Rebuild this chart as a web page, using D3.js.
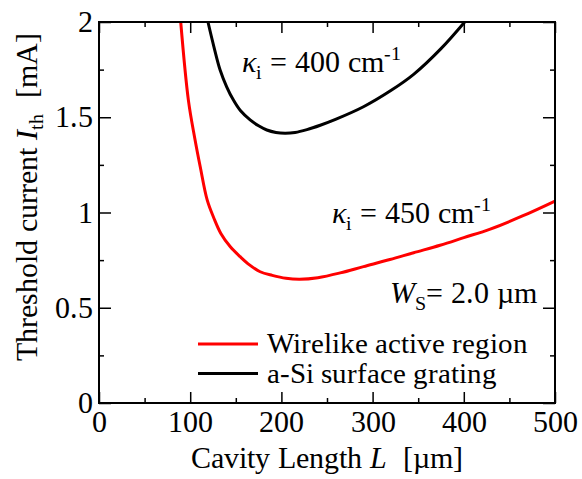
<!DOCTYPE html>
<html><head><meta charset="utf-8">
<script src="https://cdn.jsdelivr.net/npm/d3@7"></script>
<style>
@font-face { font-family: "RefSerif"; font-style: normal; src: local("Liberation Serif"), local("LiberationSerif"), local("LiberationSerif-Regular"), local("Times New Roman"); }
@font-face { font-family: "RefSerif"; font-style: italic; src: local("Liberation Serif Italic"), local("LiberationSerif-Italic"); }
body{margin:0;background:#fff}svg{display:block}
</style>
</head><body>
<script>
// Data
const redL = [89.6, 98, 105, 111, 118.6, 126, 133.6, 144, 154.8, 165, 176.7, 190, 205, 220, 240, 264.5, 290, 319, 345, 374, 400, 429, 465, 500];
const redI = [2.0, 1.59, 1.39, 1.24, 1.066, 0.97, 0.89, 0.82, 0.768, 0.725, 0.689, 0.67, 0.655, 0.65, 0.658, 0.683, 0.716, 0.753, 0.789, 0.828, 0.868, 0.913, 0.983, 1.06];
const blackL = [119.5, 126, 132.8, 140, 147.4, 155, 165.7, 175, 184, 194, 204, 215, 228, 242.6, 260, 290, 320, 345, 375, 401];
const blackI = [2.0, 1.87, 1.748, 1.66, 1.59, 1.535, 1.486, 1.455, 1.433, 1.42, 1.416, 1.42, 1.435, 1.458, 1.49, 1.555, 1.64, 1.725, 1.86, 2.0];
const xMajor = [0, 100, 200, 300, 400, 500];
const xMinor = [50, 150, 250, 350, 450];
const yMajor = [0, 0.5, 1, 1.5, 2];
const yMinor = [0.25, 0.75, 1.25, 1.75];
const legendLabels = ["Wirelike active region", "a-Si surface grating"];
const colors = ["#ff0000", "#000000"];

const W = 582, H = 479;
const m = {left: 99, right: 27, top: 22, bottom: 76};
const FONT = "RefSerif, Liberation Serif, Times New Roman, serif";

const svg = d3.select("body").append("svg").attr("width", W).attr("height", H).attr("font-family", FONT);

const x = d3.scaleLinear().domain([0, 500]).range([m.left, W - m.right]);
const y = d3.scaleLinear().domain([0, 2]).range([H - m.bottom, m.top]);

// curves
const line = d3.line().x(d => x(d[0])).y(d => y(d[1])).curve(d3.curveCatmullRom.alpha(0.5));
const series = [d3.zip(redL, redI), d3.zip(blackL, blackI)];
series.forEach((s, i) => {
  svg.append("path").datum(s).attr("d", line).attr("fill", "none")
    .attr("stroke", colors[i]).attr("stroke-width", 3);
});

// axes (inward ticks on all four sides)
function ax(g, axis) { g.call(axis); g.attr("font-family", FONT); g.select(".domain").remove(); g.selectAll("line").attr("stroke", "#000").attr("stroke-width", 1.5); }
const bottom = svg.append("g").attr("transform", `translate(0,${y(0)})`);
ax(bottom, d3.axisBottom(x).tickValues(xMajor).tickSize(-11).tickPadding(8).tickFormat(d3.format("d")));
bottom.selectAll("text").attr("font-size", 30).attr("font-family", FONT).attr("fill", "#000");
ax(svg.append("g").attr("transform", `translate(0,${y(0)})`), d3.axisBottom(x).tickValues(xMinor).tickSize(-5).tickFormat(""));
ax(svg.append("g").attr("transform", `translate(0,${y(2)})`), d3.axisTop(x).tickValues(xMajor).tickSize(-11).tickFormat(""));
ax(svg.append("g").attr("transform", `translate(0,${y(2)})`), d3.axisTop(x).tickValues(xMinor).tickSize(-5).tickFormat(""));

const left = svg.append("g").attr("transform", `translate(${x(0)},0)`);
ax(left, d3.axisLeft(y).tickValues(yMajor).tickSize(-12).tickPadding(6).tickFormat(d => d));
left.selectAll("text").attr("font-size", 30).attr("font-family", FONT).attr("fill", "#000");
ax(svg.append("g").attr("transform", `translate(${x(0)},0)`), d3.axisLeft(y).tickValues(yMinor).tickSize(-5).tickFormat(""));
ax(svg.append("g").attr("transform", `translate(${x(500)},0)`), d3.axisRight(y).tickValues(yMajor).tickSize(-12).tickFormat(""));
ax(svg.append("g").attr("transform", `translate(${x(500)},0)`), d3.axisRight(y).tickValues(yMinor).tickSize(-5).tickFormat(""));

// frame
svg.append("rect").attr("x", x(0)).attr("y", y(2)).attr("width", x(500) - x(0)).attr("height", y(0) - y(2))
  .attr("fill", "none").attr("stroke", "#000").attr("stroke-width", 2);

// axis titles
const xt = svg.append("text").attr("x", 327).attr("y", 468).attr("text-anchor", "middle")
  .attr("font-size", 30).attr("font-family", FONT);
xt.append("tspan").text("Cavity Length ");
xt.append("tspan").attr("font-style", "italic").text("L");
xt.append("tspan").attr("dx", 8).text(" [\u00b5m]");

const yt = svg.append("text").attr("transform", "translate(37,197) rotate(-90)").attr("text-anchor", "middle")
  .attr("font-size", 30).attr("font-family", FONT);
yt.append("tspan").text("Threshold current ");
yt.append("tspan").attr("font-style", "italic").text("I");
yt.append("tspan").attr("font-size", 20).attr("dy", 6).text("th");
yt.append("tspan").attr("dy", -6).attr("dx", 8).text(" [mA]");

// annotations
function kappa(xp, yp, val) {
  const t = svg.append("text").attr("x", xp).attr("y", yp).attr("font-size", 30).attr("font-family", FONT);
  t.append("tspan").attr("font-style", "italic").text("\u03ba");
  t.append("tspan").attr("font-size", 20).attr("dy", 7).text("i");
  t.append("tspan").attr("dy", -7).text(` = ${val} cm`);
  t.append("tspan").attr("font-size", 20).attr("dy", -12).text("-1");
}
kappa(242, 72, 400);
kappa(332, 223, 450);

const ws = svg.append("text").attr("x", 390).attr("y", 303).attr("font-size", 30).attr("font-family", FONT);
ws.append("tspan").attr("font-style", "italic").text("W");
ws.append("tspan").attr("font-size", 20).attr("dy", 7).text("S");
ws.append("tspan").attr("dy", -7).text("= 2.0 \u00b5m");

// legend
legendLabels.forEach((lab, i) => {
  const ly = 344 + i * 29.5;
  svg.append("line").attr("x1", 198).attr("x2", 258).attr("y1", ly).attr("y2", ly)
    .attr("stroke", colors[i]).attr("stroke-width", 3);
  svg.append("text").attr("x", 267).attr("y", ly + 9).attr("font-size", 29).attr("font-family", FONT).text(lab);
});
</script>
</body></html>
